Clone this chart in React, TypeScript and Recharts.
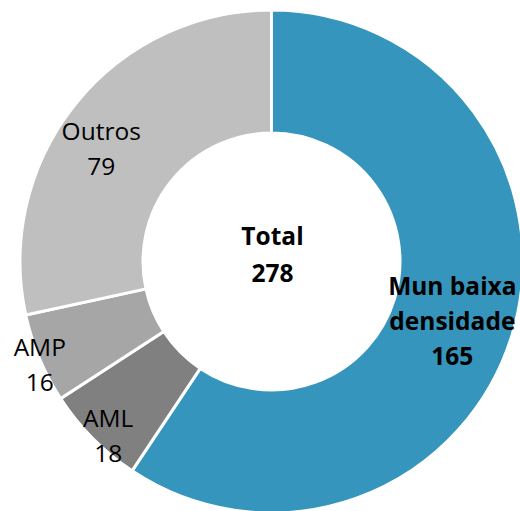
import { PieChart, Pie, Cell, Label } from "recharts";

const categories = ["Mun baixa densidade", "AML", "AMP", "Outros"];
const values = [165, 18, 16, 79];
const total = 278;

const COLORS = ["#3595BC", "#808080", "#A6A6A6", "#BFBFBF"];
const FONT = "'Open Sans', 'Noto Sans', sans-serif";
const RAD = Math.PI / 180;
const CX = 271.5;
const CY = 261.5;

// where each label sits (distance from centre), plus which ones are bold
const LABEL_POS: Record<string, { r: number; bold: boolean; lines: string[] }> = {
  "Mun baixa densidade": { r: 190, bold: true, lines: ["Mun baixa", "densidade"] },
  AML: { r: 238, bold: false, lines: ["AML"] },
  AMP: { r: 253, bold: false, lines: ["AMP"] },
  Outros: { r: 205, bold: false, lines: ["Outros"] },
};
const LABEL_ANGLE_SHIFT: Record<string, number> = {
  "Mun baixa densidade": -1,
  AML: 2,
  AMP: 1,
  Outros: 5,
};

const data = categories.map((name, i) => ({ name, value: values[i] }));

function renderLabel(props: any) {
  const { cx, cy, midAngle, name, value } = props;
  const cfg = LABEL_POS[name];
  const a = (midAngle + (LABEL_ANGLE_SHIFT[name] || 0)) * RAD;
  const x = cx + cfg.r * Math.cos(a);
  const y = cy - cfg.r * Math.sin(a);
  const lines = [...cfg.lines, String(value)];
  const lh = 35;
  const y0 = y - ((lines.length - 1) * lh) / 2;
  return (
    <text
      x={x}
      y={y0}
      textAnchor="middle"
      dominantBaseline="central"
      fontFamily={FONT}
      fontSize={24.5}
      fontWeight={cfg.bold ? 700 : 400}
      fill="#000"
    >
      {lines.map((l, i) => (
        <tspan key={i} x={x} y={y0 + i * lh}>
          {l}
        </tspan>
      ))}
    </text>
  );
}

function CenterLabel() {
  return (
    <text
      x={CX}
      textAnchor="middle"
      dominantBaseline="central"
      fontFamily={FONT}
      fontSize={24.5}
      fontWeight={700}
      fill="#000"
    >
      <tspan x={CX + 1} y={CY - 27}>
        Total
      </tspan>
      <tspan x={CX + 1} y={CY + 10}>
        {total}
      </tspan>
    </text>
  );
}

export default function App() {
  return (
    <div style={{ position: "absolute", left: 0, top: 0, width: 520, height: 511, background: "#fff" }}>
      <PieChart width={520} height={511} margin={{ top: 0, right: 0, bottom: 0, left: 0 }}>
        <Pie
          data={data}
          dataKey="value"
          nameKey="name"
          cx={CX}
          cy={CY}
          innerRadius={128.5}
          outerRadius={251.5}
          startAngle={90}
          endAngle={-270}
          stroke="#fff"
          strokeWidth={3}
          label={renderLabel}
          labelLine={false}
          isAnimationActive={false}
        >
          {data.map((d, i) => (
            <Cell key={d.name} fill={COLORS[i]} />
          ))}
          <Label position="center" content={<CenterLabel />} />
        </Pie>
      </PieChart>
    </div>
  );
}
